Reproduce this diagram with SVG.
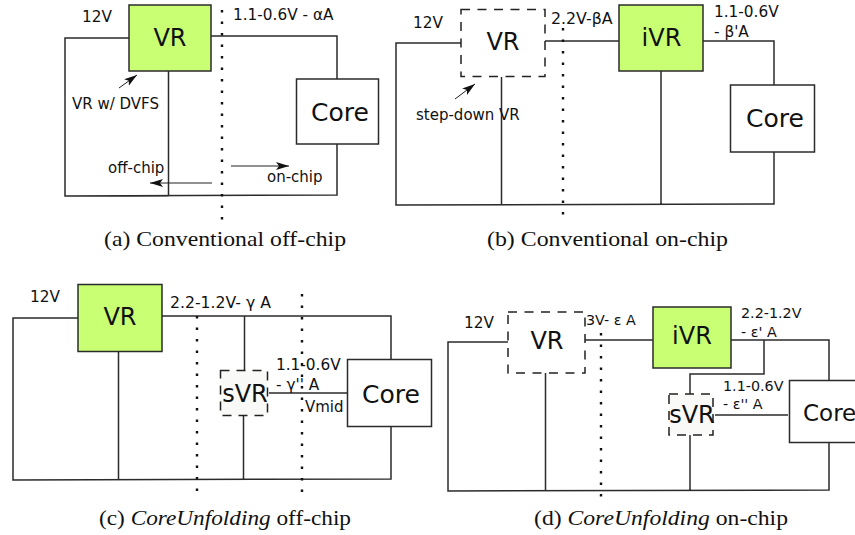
<svg xmlns="http://www.w3.org/2000/svg" width="855" height="535" viewBox="0 0 855 535">
<defs>
<marker id="ah" markerUnits="userSpaceOnUse" markerWidth="14" markerHeight="10" refX="13" refY="4" orient="auto"><path d="M0,0 L13,4 L0,8 L3,4 Z" fill="#111"/></marker>
</defs>
<style>
text{font-family:"DejaVu Sans",sans-serif;fill:#111}
.w{fill:none;stroke:#2b2b2b;stroke-width:1.5}
.a{fill:none;stroke:#222;stroke-width:1;marker-end:url(#ah)}
.d{fill:none;stroke:#111;stroke-width:2.4;stroke-dasharray:2.4 9.1}
.g{fill:#c8ff73;stroke:#2b2b2b;stroke-width:1.5}
.c{fill:#fff;stroke:#2b2b2b;stroke-width:1.5}
.v{fill:#fff;stroke:#222;stroke-width:1.5;stroke-dasharray:9 7.500}
.s{fill:#f9f9f7;stroke:#222;stroke-width:1.5;stroke-dasharray:9 7}
.b{font-size:24px;text-anchor:middle}
.m{font-size:15.300px}
.n{font-size:15px}
.k{font-size:14.300px}
.cap{font-family:"Liberation Serif",serif;font-size:21px}
</style>
<g id="connectors">
<path class="w" d="M129,38H65V196H168.500M168.500,71V196M65,196L337,195V144M211,36H337V79"/>
<path class="w" d="M461,43H396V205L774,204V152M545,41H619M703,41H774V85M501.500,77V205M661,71V204"/>
<path class="w" d="M78,318H13V480L391,479V426M161,316H391V359M118.500,351V480M244.500,316V370M243.500,415V480M269,393H348"/>
<path class="w" d="M508,342H448V491L829,490V442M585,340H653M731,340H829V380M764,340V374H690V394M715,415H788M690,435V491M545.500,373V491"/>
<path class="a" d="M119,88L137,75"/>
<path class="a" d="M212,183H150"/>
<path class="a" d="M231,166H289"/>
<path class="a" d="M455,99L475,84"/>
<path class="d" d="M222,10V222"/>
<path class="d" d="M563,28V222"/>
<path class="d" d="M197,316V497"/>
<path class="d" d="M302,294V499"/>
<path class="d" d="M601,333V499"/>
</g>
<g id="a-vr"><rect class="g" x="129" y="5" width="82" height="66"/><text class="b" x="170" y="46">VR</text></g>
<g id="a-core"><rect class="c" x="296.500" y="79" width="82" height="65"/><text class="b" x="340" y="121" style="font-size:25px">Core</text></g>
<g id="b-vr"><rect class="v" x="461" y="9.500" width="84" height="67"/><text class="b" x="503" y="50">VR</text></g>
<g id="b-ivr"><rect class="g" x="619" y="5" width="84" height="66"/><text class="b" x="661.500" y="46">iVR</text></g>
<g id="b-core"><rect class="c" x="730.500" y="85" width="84" height="67"/><text class="b" x="775" y="127" style="font-size:25px">Core</text></g>
<g id="c-vr"><rect class="g" x="78" y="284.500" width="84" height="67"/><text class="b" x="120" y="325">VR</text></g>
<g id="c-svr"><rect class="s" x="220.500" y="370.500" width="47" height="45"/><text class="b" x="245" y="402">sVR</text></g>
<g id="c-core"><rect class="c" x="347.500" y="359.500" width="84" height="67"/><text class="b" x="391" y="403" style="font-size:25px">Core</text></g>
<g id="d-vr"><rect class="v" x="508" y="312" width="77" height="61"/><text class="b" x="547" y="349">VR</text></g>
<g id="d-ivr"><rect class="g" x="653" y="307" width="78" height="61"/><text class="b" x="692" y="344">iVR</text></g>
<g id="d-svr"><rect class="s" x="669" y="394" width="44" height="41"/><text class="b" x="692" y="423">sVR</text></g>
<g id="d-core"><rect class="c" x="789.500" y="380.500" width="70" height="62"/><text x="803" y="421" style="font-size:23px">Core</text></g>
<g id="labels">
<text class="m" x="82" y="22">12V</text>
<text class="m" x="233" y="20">1.1-0.6V - αA</text>
<text class="n" x="72" y="109">VR w/ DVFS</text>
<text class="n" x="108" y="173">off-chip</text>
<text class="n" x="267" y="182">on-chip</text>
<text class="m" x="413" y="28">12V</text>
<text class="m" x="551" y="24" style="font-size:15.800px">2.2V-βA</text>
<text class="m" x="714" y="17">1.1-0.6V</text>
<text class="m" x="714" y="37">- β'A</text>
<text class="n" x="416" y="120">step-down VR</text>
<text class="m" x="30" y="302">12V</text>
<text class="m" x="170" y="308" style="font-size:15.700px">2.2-1.2V- γ A</text>
<text class="m" x="276" y="370">1.1-0.6V</text>
<text class="m" x="276" y="390">- γ'' A</text>
<text class="n" x="305" y="412">Vmid</text>
<text class="m" x="464" y="328">12V</text>
<text class="k" x="586" y="325">3V- ε A</text>
<text class="k" x="741" y="318">2.2-1.2V</text>
<text class="k" x="741" y="337">- ε' A</text>
<text class="k" x="723" y="391">1.1-0.6V</text>
<text class="k" x="723" y="409">- ε'' A</text>
<text class="cap" x="104" y="246" textLength="242" lengthAdjust="spacingAndGlyphs">(a) Conventional off-chip</text>
<text class="cap" x="487" y="246" textLength="241" lengthAdjust="spacingAndGlyphs">(b) Conventional on-chip</text>
<text class="cap" x="99" y="525" textLength="252" lengthAdjust="spacingAndGlyphs">(c) <tspan font-style="italic">CoreUnfolding</tspan> off-chip</text>
<text class="cap" x="534" y="525" textLength="254" lengthAdjust="spacingAndGlyphs">(d) <tspan font-style="italic">CoreUnfolding</tspan> on-chip</text>
</g>
</svg>
